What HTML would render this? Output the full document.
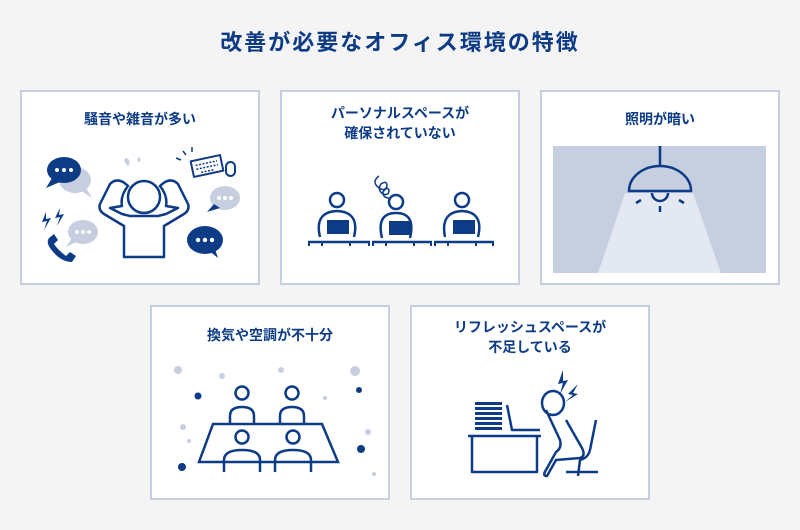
<!DOCTYPE html>
<html><head><meta charset="utf-8"><style>
html,body{margin:0;padding:0;background:#f4f4f4;}
svg{display:block}
text{font-family:"Liberation Sans","Noto Sans CJK JP",sans-serif;font-weight:bold;fill:#0d3b86;text-anchor:middle}
</style></head><body>
<svg width="800" height="530" viewBox="0 0 800 530" xmlns="http://www.w3.org/2000/svg">
<rect width="800" height="530" fill="#f4f4f4"/>
<text x="400" y="50" font-size="22" letter-spacing="2">改善が必要なオフィス環境の特徴</text>
<g fill="#fff" stroke="#c6cee0" stroke-width="2">
<rect x="21" y="91" width="238" height="193"/>
<rect x="281" y="91" width="238" height="193"/>
<rect x="541" y="91" width="238" height="193"/>
<rect x="151" y="306" width="238" height="193"/>
<rect x="411" y="306" width="238" height="193"/>
</g>
<text x="140" y="124" font-size="14">騒音や雑音が多い</text>
<text x="400" y="118" font-size="14">パーソナルスペースが</text>
<text x="400" y="138" font-size="14">確保されていない</text>
<text x="660" y="124" font-size="14">照明が暗い</text>
<text x="270" y="340" font-size="14">換気や空調が不十分</text>
<text x="530" y="332" font-size="14">リフレッシュスペースが</text>
<text x="530" y="352" font-size="14">不足している</text>

<!-- card1 -->
<g>
<ellipse cx="75" cy="180" rx="16" ry="13" fill="#c6cee0"/><path d="M80 190 L92 198 L85 186Z" fill="#c6cee0"/>
<ellipse cx="64" cy="170" rx="17" ry="13" fill="#0d3b86"/><path d="M52 178 L46 188 L60 182Z" fill="#0d3b86"/>
<g fill="#fff"><circle cx="57" cy="170" r="2"/><circle cx="64" cy="170" r="2"/><circle cx="71" cy="170" r="2"/></g>
<ellipse cx="83" cy="232" rx="15" ry="12" fill="#c6cee0"/><path d="M72 238 L66 247 L78 241Z" fill="#c6cee0"/>
<g fill="#fff"><circle cx="77" cy="232" r="2"/><circle cx="83" cy="232" r="2"/><circle cx="89" cy="232" r="2"/></g>
<ellipse cx="225" cy="198" rx="15" ry="12" fill="#c6cee0"/><path d="M214 204 L207 212 L220 208Z" fill="#0d3b86"/>
<g fill="#fff"><circle cx="219" cy="198" r="2"/><circle cx="225" cy="198" r="2"/><circle cx="231" cy="198" r="2"/></g>
<ellipse cx="205" cy="240" rx="18" ry="14" fill="#0d3b86"/><path d="M208 250 L218 258 L214 246Z" fill="#0d3b86"/>
<g fill="#fff"><circle cx="198" cy="240" r="2.2"/><circle cx="205" cy="240" r="2.2"/><circle cx="212" cy="240" r="2.2"/></g>
<path d="M128 166 Q122 160 126 158 Q132 160 128 166Z M138 162 Q136 156 140 158 Q142 162 138 162Z" fill="#c6cee0"/>
<g fill="none" stroke="#0d3b86" stroke-width="2.5" stroke-linejoin="round">
<circle cx="144" cy="197" r="16"/>
<path d="M128 186 Q118 176 110 184 L100 204 Q98 210 104 214 L124 226 L124 257 L164 257 L164 226 L184 214 Q190 210 188 204 L178 184 Q170 176 160 186 Q168 196 166 206 L178 208 L166 214 L158 216 L130 216 L122 214 L110 208 L122 206 Q120 196 128 186Z"/>
<g transform="rotate(-12 207 166)"><rect x="192" y="158" width="30" height="16" stroke-width="2"/>
<path d="M196 163 H218 M196 167 H218 M200 171 H214" stroke-width="1.5" stroke-dasharray="2 1.5"/></g>
<rect x="226" y="162" width="9" height="14" rx="4.5" stroke-width="2"/>
<path d="M186 155 l-3 -4 M192 152 l0 -5 M181 160 l-5 -2" stroke-width="1.5"/>
</g>
<g fill="#0d3b86"><path d="M46 212 L42 222 L47 221 L44 230 L51 218 L46 219Z"/><path d="M60 208 L55 218 L60 217 L57 226 L64 214 L59 215Z"/>
<path d="M49 238 Q46 242 50 248 Q60 262 72 262 L76 256 L70 252 L66 256 Q58 250 54 244 L58 240 L54 234Z"/></g>
</g>

<!-- card2 -->
<g fill="none" stroke="#0d3b86" stroke-width="2.5">
<path d="M379 176 q-8 6 0 12 q6 4 8 -2 q0 -6 -6 -2 q-4 6 2 10 q6 2 6 -4 q-2 -4 -6 2 q0 6 6 6" stroke-width="1.5"/>
<circle cx="337" cy="200" r="7"/><circle cx="396" cy="202" r="7"/><circle cx="462" cy="200" r="7"/>
<path d="M320 237 Q314 212 337 211 Q360 212 354 237"/>
<path d="M382 238 Q376 213 396 213 Q416 213 410 238"/>
<path d="M445 237 Q440 212 462 211 Q484 212 478 237"/>
<path d="M308 242 H370 M372 242 H432 M434 242 H494"/>
<path d="M309 242 v4 M322 242 v4 M350 242 v4 M369 242 v4 M373 242 v4 M386 242 v4 M414 242 v4 M431 242 v4 M435 242 v4 M448 242 v4 M476 242 v4 M493 242 v4" stroke-width="2"/>
</g>
<g fill="#0d3b86"><rect x="327" y="220" width="22" height="14"/><rect x="389" y="221" width="22" height="14"/><rect x="453" y="220" width="22" height="14"/></g>

<!-- card3 -->
<rect x="553" y="146" width="213" height="127" fill="#c5cfe0"/>
<path d="M625 193 H693 L721 273 H598Z" fill="#e4e8f2"/>
<g fill="none" stroke="#0d3b86" stroke-width="2.5">
<path d="M660 146 V167"/>
<path d="M629 191 A31 25 0 0 1 691 191 Z"/>
<path d="M652 193 A8 8 0 0 0 668 193"/>
<path d="M641 200 l-5 3 M679 200 l5 3 M660 206 v6"/>
</g>

<!-- card4 -->
<g fill="#c6cee0"><circle cx="178" cy="370" r="4"/><circle cx="222" cy="376" r="3"/><circle cx="281" cy="370" r="3"/><circle cx="355" cy="371" r="5"/><circle cx="183" cy="427" r="3"/><circle cx="189" cy="441" r="2"/><circle cx="325" cy="398" r="2"/><circle cx="368" cy="432" r="3"/><circle cx="374" cy="474" r="2"/></g>
<g fill="#0d3b86"><circle cx="198" cy="396" r="3.5"/><circle cx="359" cy="390" r="3"/><circle cx="361" cy="449" r="4"/><circle cx="182" cy="467" r="4"/></g>
<g fill="none" stroke="#0d3b86" stroke-width="2.5">
<path d="M213 424 H322 L338 462 H199Z"/>
<circle cx="242" cy="393" r="6.5"/><circle cx="292" cy="393" r="6.5"/>
<path d="M230 424 v-8 q0 -9 12 -9 q12 0 12 9 v8 M280 424 v-8 q0 -9 12 -9 q12 0 12 9 v8"/>
<circle cx="242" cy="437" r="6.5"/><circle cx="293" cy="437" r="6.5"/>
<path d="M224 472 v-12 q0 -10 18 -10 q18 0 18 10 v12 M275 472 v-12 q0 -10 18 -10 q18 0 18 10 v12"/>
</g>

<!-- card5 -->
<g fill="#0d3b86"><rect x="475" y="402" width="27" height="3"/><rect x="475" y="407" width="27" height="3"/><rect x="475" y="412" width="27" height="3"/><rect x="475" y="417" width="27" height="3"/><rect x="475" y="422" width="27" height="3"/><rect x="475" y="427" width="27" height="3"/>
<path d="M563 370 L558 384 L563 383 L560 394 L568 380 L563 381Z"/><path d="M578 384 L568 394 L573 395 L565 402 L578 394 L573 393Z"/></g>
<g fill="none" stroke="#0d3b86" stroke-width="2.5" stroke-linejoin="round">
<path d="M468 436 H541 M472 436 V472 H537 V436"/>
<path d="M507 405 L512 430 H540"/>
<ellipse cx="553" cy="403" rx="11" ry="12"/>
<path d="M546 410 L560 440 Q562 448 556 452 L546 470 Q542 476 547 476 L556 460 L580 458 Q586 456 582 448 L566 420"/>
<path d="M596 420 L590 450 Q588 458 580 460 L578 476 M566 472 H598"/>
</g>
</svg>
</body></html>
